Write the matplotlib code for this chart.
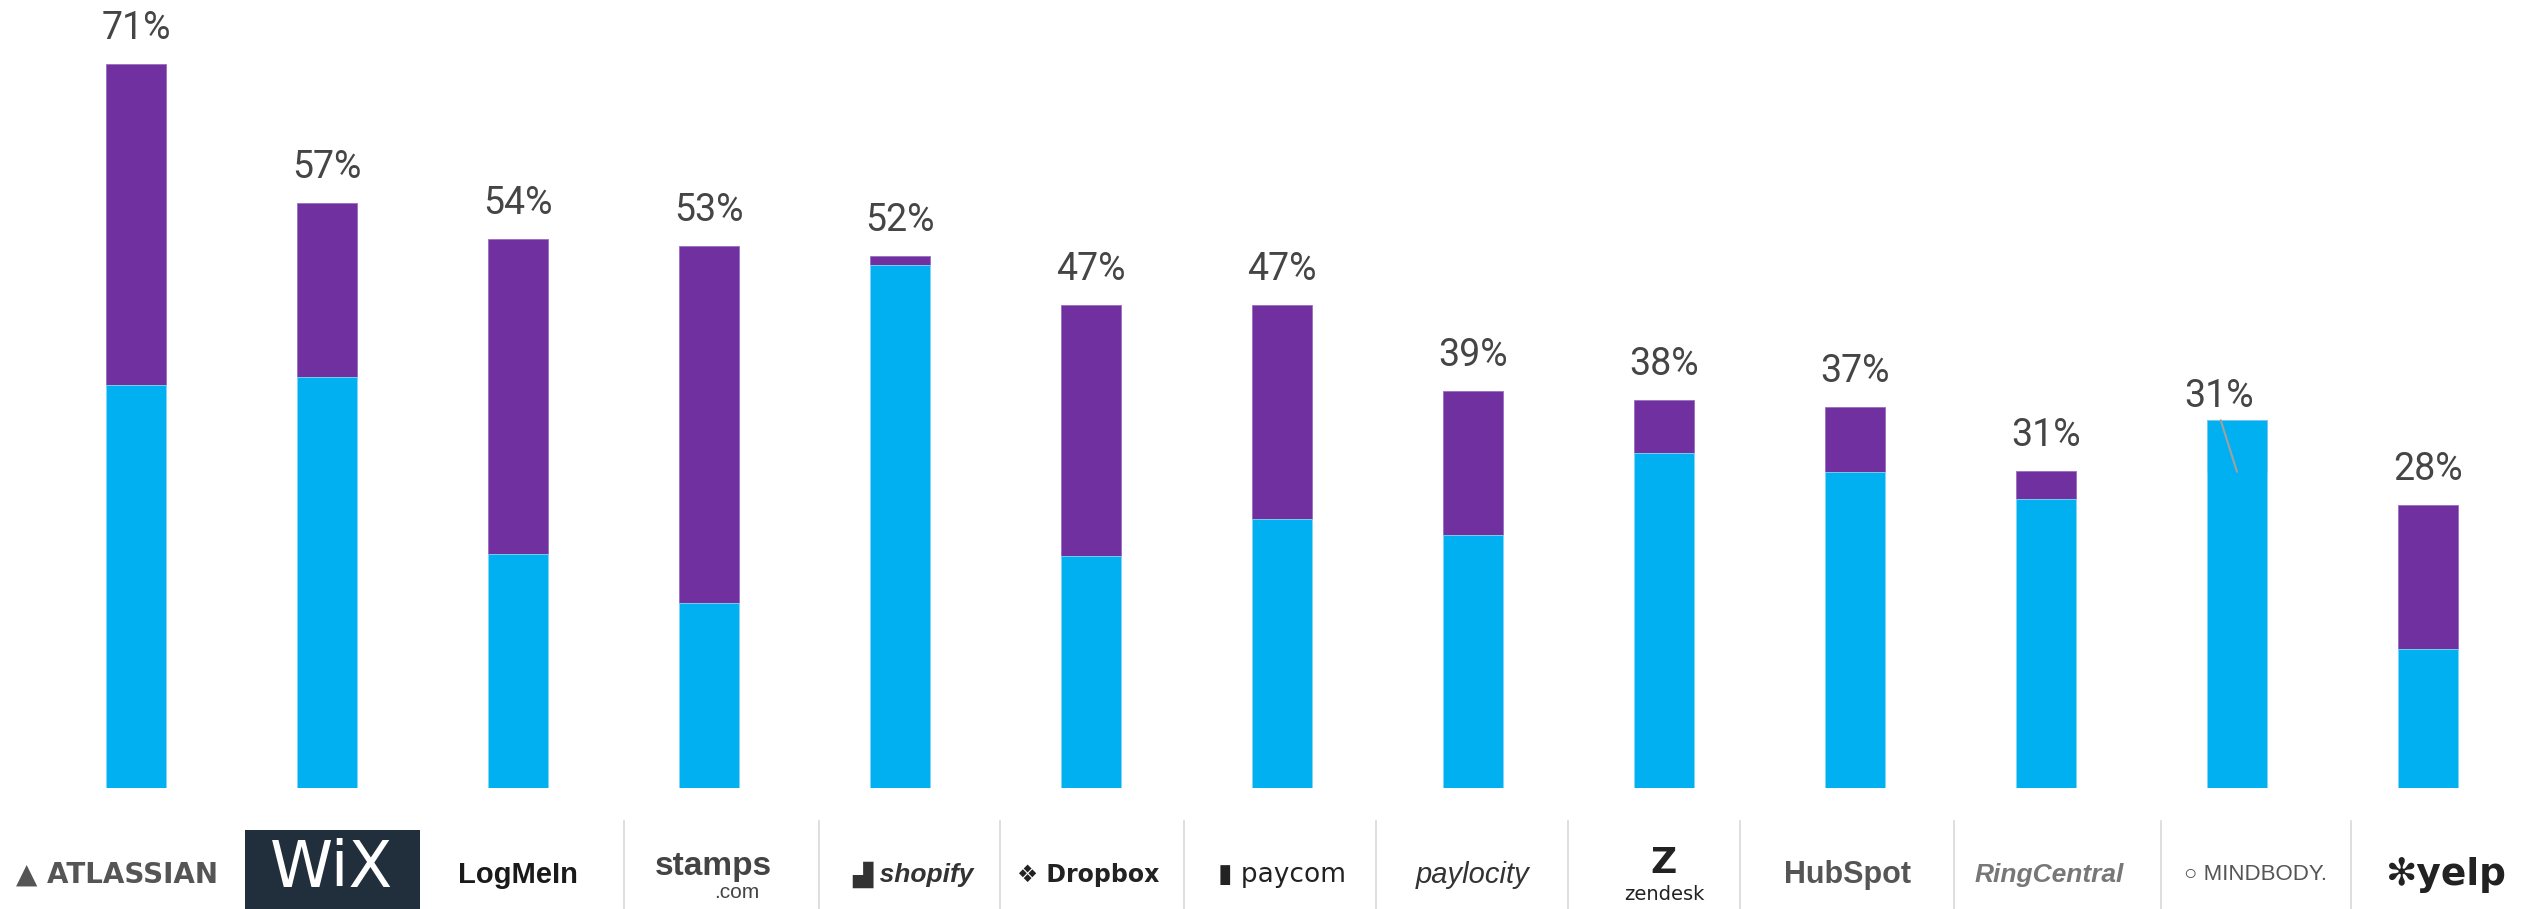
import matplotlib
matplotlib.use("Agg")
import matplotlib.pyplot as plt
from matplotlib.patches import Rectangle
from matplotlib.transforms import blended_transform_factory
from matplotlib.lines import Line2D

# Companies (left to right) and the two stacked components, in percent
companies = ["Atlassian", "Wix", "LogMeIn", "Stamps.com", "Shopify", "Dropbox", "Paycom",
             "Paylocity", "Zendesk", "HubSpot", "RingCentral", "MINDBODY", "Yelp"]
blue_part = [39.5, 40.3, 22.9, 18.1, 51.3, 22.7, 26.4, 24.8, 32.8, 31.0, 28.3, 36.1, 13.6]
purple_part = [31.5, 17.1, 30.9, 35.0, 0.9, 24.7, 21.0, 14.1, 5.2, 6.4, 2.8, -5.1, 14.1]

BLUE = "#00B0F0"
PURPLE = "#7030A0"
LABEL_COLOR = "#454545"

W, H = 2542, 909
fig = plt.figure(figsize=(W / 100, H / 100), dpi=100)
fig.patch.set_facecolor("white")

base_px = 121          # baseline height from bottom of figure
px_per_pct = 10.2
spacing_px = 191
first_center_px = 136

ax = fig.add_axes([0, base_px / H, 1, (H - base_px) / H])
ax.set_ylim(0, (H - base_px) / px_per_pct)
ax.set_xlim(-first_center_px / spacing_px, (W - first_center_px) / spacing_px)
ax.axis("off")

x = list(range(len(companies)))
bar_w = 60 / spacing_px
totals = [b + p for b, p in zip(blue_part, purple_part)]

ax.bar(x, purple_part, bottom=blue_part, width=bar_w, color=PURPLE, zorder=2,
       edgecolor="#9a6cc0", linewidth=0.6)
ax.bar(x, blue_part, width=bar_w, color=BLUE, zorder=3,
       edgecolor="#7fd6f7", linewidth=0.6)

label_kw = dict(ha="center", va="baseline", fontsize=27, color=LABEL_COLOR,
                family="Roboto", weight="normal", zorder=5)
for i, (b, p, t) in enumerate(zip(blue_part, purple_part, totals)):
    label = f"{t:.0f}%"
    if p >= 0:
        ax.annotate(label, xy=(i, t), xytext=(0, 18), textcoords="offset points", **label_kw)
    else:
        # total lies inside the blue bar: label above it with a leader line
        tx = i - 18 / spacing_px
        ty = b + 13 / px_per_pct
        ax.annotate(label, xy=(i, t), xytext=(tx, ty), textcoords="data",
                    arrowprops=dict(arrowstyle="-", color="#a0a0a0", lw=1.5,
                                    shrinkA=2, shrinkB=0, relpos=(0.5, 0.0)),
                    **label_kw)

# Logo row beneath the bars
px_tr = blended_transform_factory(fig.transFigure, fig.transFigure)
logo_tr = blended_transform_factory(ax.transData, fig.transFigure)
row_y = 34 / H

# thin separators between logos (pixel positions across the figure)
separator_px = [624, 819, 1000, 1184, 1376, 1568, 1740, 1954, 2161, 2351]
for sx in separator_px:
    fig.add_artist(Line2D([sx / W, sx / W], [0, 88 / H], transform=px_tr,
                          color="#d9d9d9", lw=1.2))

# Wix badge
fig.add_artist(Rectangle((245 / W, 0), 175 / W, 79 / H, transform=px_tr,
                         facecolor="#212f3c", edgecolor="none"))

def logo(i, s, dx=0, dy=0, **kw):
    text_kw = dict(ha="center", va="center", transform=logo_tr, family="DejaVu Sans")
    text_kw.update(kw)
    fig.text(i + dx / spacing_px, row_y + dy / H, s, **text_kw)

logo(0, "▲ ATLASSIAN", dx=-19, fontsize=20, weight="bold", color="#555555")
logo(1, "WiX", dx=5, dy=6, fontsize=46, color="white", family="DejaVu Sans")
logo(2, "LogMeIn", fontsize=21, weight="bold", color="#1a1a1a", family="Liberation Sans")
logo(3, "stamps", dx=4, dy=9, fontsize=24, weight="bold", color="#444444", family="Liberation Sans")
logo(3, ".com", dx=28, dy=-17, fontsize=15, color="#444444", family="Liberation Sans")
logo(4, "▟ shopify", dx=13, fontsize=19, weight="bold", style="italic", color="#333333",
     family=["Liberation Sans", "DejaVu Sans"])
logo(5, "❖ Dropbox", dx=-3, fontsize=17, weight="bold", color="#222222")
logo(6, "▮ paycom", fontsize=19, color="#222222")
logo(7, "paylocity", fontsize=21, style="italic", color="#333333", family="Liberation Sans")
logo(8, "Z", dy=12, fontsize=26, weight="bold", color="#222222")
logo(8, "zendesk", dy=-19, fontsize=14, color="#222222")
logo(9, "HubSpot", dx=-7, fontsize=22, weight="bold", color="#555555", family="Liberation Sans")
logo(10, "RingCentral", dx=3, fontsize=19, weight="bold", style="italic", color="#777777",
     family="Liberation Sans")
logo(11, "○ MINDBODY.", dx=18, fontsize=16, color="#555555",
     family=["Liberation Sans", "DejaVu Sans"])
logo(12, "✻yelp", dx=18, fontsize=27, weight="bold", color="#222222")

fig.savefig("out.png", dpi=100, facecolor="white")
